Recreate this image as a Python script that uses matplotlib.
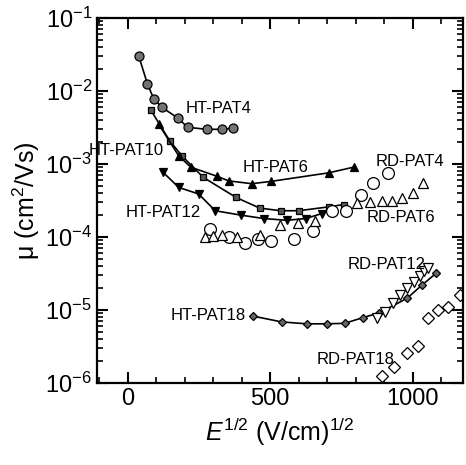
import numpy as np
import matplotlib
matplotlib.use('Agg')
import matplotlib.pyplot as plt
from matplotlib.ticker import FixedLocator, LogLocator, NullFormatter

plt.rcParams['font.family'] = ['Liberation Sans', 'DejaVu Sans']
plt.rcParams['mathtext.fontset'] = 'custom'
plt.rcParams['mathtext.rm'] = 'Liberation Sans'
plt.rcParams['mathtext.it'] = 'Liberation Sans:italic'

# mobility vs sqrt(field), HT = filled markers with line, RD = open markers
ht_pat4_x = [39, 69, 91, 120, 175, 210, 277, 330, 368]
ht_pat4_mu = [3.0e-2, 1.26e-2, 7.9e-3, 6.0e-3, 4.3e-3, 3.2e-3, 3.0e-3, 3.0e-3, 3.1e-3]

ht_pat10_x = [81, 147, 190, 265, 380, 463, 537, 600, 705, 758]
ht_pat10_mu = [5.5e-3, 2.1e-3, 1.3e-3, 6.6e-4, 3.5e-4, 2.5e-4, 2.3e-4, 2.3e-4, 2.6e-4, 2.8e-4]

ht_pat6_x = [109, 179, 221, 314, 354, 435, 502, 705, 793]
ht_pat6_mu = [3.5e-3, 1.3e-3, 9.1e-4, 6.8e-4, 5.9e-4, 5.4e-4, 5.8e-4, 7.6e-4, 9.1e-4]

ht_pat12_x = [123, 179, 249, 307, 398, 477, 558, 625, 680]
ht_pat12_mu = [7.8e-4, 4.8e-4, 3.9e-4, 2.3e-4, 2.0e-4, 1.8e-4, 1.7e-4, 1.8e-4, 2.1e-4]

ht_pat18_x = [439, 540, 628, 698, 761, 825, 880, 980, 1032, 1082]
ht_pat18_mu = [8.3e-6, 6.9e-6, 6.5e-6, 6.5e-6, 6.6e-6, 7.9e-6, 9.1e-6, 1.45e-5, 2.2e-5, 3.2e-5]

rd_pat4_x = [288, 354, 410, 457, 502, 582, 650, 715, 765, 817, 860, 912]
rd_pat4_mu = [1.3e-4, 1.0e-4, 8.3e-5, 9.3e-5, 8.9e-5, 9.5e-5, 1.2e-4, 2.3e-4, 2.3e-4, 3.8e-4, 5.5e-4, 7.6e-4]

rd_pat6_x = [270, 298, 330, 382, 463, 533, 596, 656, 803, 849, 891, 926, 961, 1000, 1035]
rd_pat6_mu = [1.0e-4, 1.05e-4, 1.07e-4, 1.0e-4, 1.07e-4, 1.45e-4, 1.55e-4, 1.66e-4,
              2.95e-4, 3.0e-4, 3.1e-4, 3.1e-4, 3.4e-4, 4.0e-4, 5.6e-4]

rd_pat12_x = [873, 902, 930, 955, 980, 1003, 1025, 1040, 1055]
rd_pat12_mu = [7.9e-6, 9.5e-6, 1.26e-5, 1.6e-5, 2.0e-5, 2.4e-5, 2.95e-5, 3.4e-5, 3.8e-5]

rd_pat18_x = [891, 935, 980, 1020, 1055, 1090, 1125, 1165]
rd_pat18_mu = [1.26e-6, 1.66e-6, 2.6e-6, 3.2e-6, 7.9e-6, 1.02e-5, 1.1e-5, 1.6e-5]

# label text, left x, y
labels = [
    ('HT-PAT4', 204, 10**-2.24),
    ('HT-PAT10', -137, 10**-2.81),
    ('HT-PAT6', 404, 10**-3.04),
    ('RD-PAT4', 870, 10**-2.97),
    ('HT-PAT12', -7, 10**-3.66),
    ('RD-PAT6', 839, 10**-3.73),
    ('RD-PAT12', 772, 10**-4.37),
    ('HT-PAT18', 150, 10**-5.07),
    ('RD-PAT18', 663, 10**-5.68),
]

fig = plt.figure(figsize=(4.66, 4.65), dpi=100)
ax = fig.add_axes([0.208, 0.176, 0.786, 0.785])

line_kw = dict(color='k', linewidth=1.2, markeredgecolor='k', markeredgewidth=0.9)
ax.plot(ht_pat4_x, ht_pat4_mu, marker='o', markersize=6.5, markerfacecolor='0.45', **line_kw)
ax.plot(ht_pat10_x, ht_pat10_mu, marker='s', markersize=4.8, markerfacecolor='0.35', **line_kw)
ax.plot(ht_pat6_x, ht_pat6_mu, marker='^', markersize=5.5, markerfacecolor='k', **line_kw)
ax.plot(ht_pat12_x, ht_pat12_mu, marker='v', markersize=5.5, markerfacecolor='k', **line_kw)
ax.plot(ht_pat18_x, ht_pat18_mu, marker='D', markersize=4.5, markerfacecolor='0.4', **line_kw)

open_kw = dict(linestyle='none', markerfacecolor='white', markeredgecolor='k', markeredgewidth=0.9)
ax.plot(rd_pat4_x, rd_pat4_mu, marker='o', markersize=8.5, **open_kw)
ax.plot(rd_pat6_x, rd_pat6_mu, marker='^', markersize=7, **open_kw)
ax.plot(rd_pat12_x, rd_pat12_mu, marker='v', markersize=7, **open_kw)
ax.plot(rd_pat18_x, rd_pat18_mu, marker='D', markersize=6, **open_kw)

for txt, x, y in labels:
    ax.text(x, y, txt, fontsize=12, ha='left', va='center', clip_on=False)

ax.set_yscale('log')
ax.set_xlim(-108, 1177)
ax.set_ylim(1e-6, 1e-1)

ax.xaxis.set_major_locator(FixedLocator([0, 500, 1000]))
ax.xaxis.set_minor_locator(FixedLocator(np.arange(-100, 1200, 100)))
ax.yaxis.set_major_locator(LogLocator(base=10, numticks=10))
ax.yaxis.set_minor_locator(LogLocator(base=10, subs=np.arange(2, 10), numticks=20))
ax.yaxis.set_minor_formatter(NullFormatter())

ax.tick_params(which='both', direction='in', top=True, right=True, labelsize=17)
ax.tick_params(which='major', length=8, width=1.5)
ax.tick_params(which='minor', length=4, width=1.2)
for sp in ax.spines.values():
    sp.set_linewidth(1.6)

ax.set_xlabel(r'$E^{1/2}$ (V/cm)$^{1/2}$', fontsize=18, labelpad=4)
ax.set_ylabel('μ (cm$^2$/Vs)', fontsize=18, labelpad=2)

fig.savefig('out.png', dpi=100)
